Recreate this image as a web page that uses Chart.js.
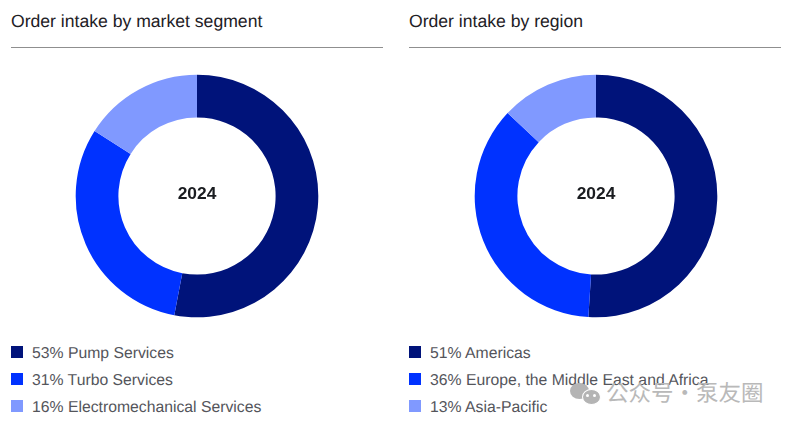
<!DOCTYPE html>
<html>
<head>
<meta charset="utf-8">
<script src="https://cdn.jsdelivr.net/npm/chart.js@4"></script>
<style>
    html, body { margin: 0; padding: 0; background: #fff; }
    body { width: 790px; height: 423px; position: relative; overflow: hidden; font-family: "Liberation Sans", Arial, sans-serif; text-rendering: geometricPrecision; }
    .title { position: absolute; top: 11px; font-size: 17.6px; line-height: 20px; color: #1e2025; white-space: nowrap; }
    .rule { position: absolute; top: 46.5px; height: 1.5px; background: #8f8f8f; }
    canvas { position: absolute; top: 74px; }
    .legend-row { position: absolute; font-size: 15.75px; line-height: 18px; color: #54555b; white-space: nowrap; }
    .legend-row i { position: absolute; left: 0; top: 1px; width: 12px; height: 12px; }
    .legend-row span { position: absolute; left: 21px; top: 0; }
    .mark { position: absolute; left: 606px; top: 377px; font-family: "Noto Sans CJK SC", sans-serif; font-size: 22.5px; line-height: 30px; color: #b9b9b9; white-space: nowrap; }
    .bubble { position: absolute; border-radius: 50%; background: #b4b4b4; }
    .eye { position: absolute; width: 3px; height: 3px; border-radius: 50%; background: #fff; }
</style>
</head>
<body>
<canvas id="chartSegment" width="244" height="244" style="left:75px"></canvas>
<canvas id="chartRegion" width="244" height="244" style="left:473.5px"></canvas>
<script>
const yearLabel = '2024';
const colors = ['#00137a', '#0032ff', '#8099ff'];

const segmentTitle = 'Order intake by market segment';
const segmentLabels = ['Pump Services', 'Turbo Services', 'Electromechanical Services'];
const segmentValues = [53, 31, 16];

const regionTitle = 'Order intake by region';
const regionLabels = ['Americas', 'Europe, the Middle East and Africa', 'Asia-Pacific'];
const regionValues = [51, 36, 13];

// year in the hole of the ring
const centerText = {
    id: 'centerText',
    afterDraw(chart) {
        const { ctx, chartArea } = chart;
        ctx.save();
        ctx.font = 'bold 17.4px "Liberation Sans", Arial, sans-serif';
        ctx.fillStyle = '#1a1c20';
        ctx.textAlign = 'center';
        ctx.textBaseline = 'middle';
        ctx.fillText(yearLabel, (chartArea.left + chartArea.right) / 2, (chartArea.top + chartArea.bottom) / 2 - 1.5);
        ctx.restore();
    }
};

function renderDonut(canvasId, labels, values) {
    new Chart(document.getElementById(canvasId), {
        type: 'doughnut',
        data: {
            labels: labels,
            datasets: [{ data: values, backgroundColor: colors, borderWidth: 0 }]
        },
        options: {
            responsive: false,
            animation: false,
            cutout: '64.8%',
            layout: { padding: 0.7 },
            plugins: { legend: { display: false }, tooltip: { enabled: false } }
        },
        plugins: [centerText]
    });
}

function addBlock(left, title, labels, values) {
    const head = document.createElement('div');
    head.className = 'title';
    head.style.left = left + 'px';
    head.textContent = title;
    document.body.appendChild(head);

    const rule = document.createElement('div');
    rule.className = 'rule';
    rule.style.left = left + 'px';
    rule.style.width = '372px';
    document.body.appendChild(rule);

    labels.forEach((label, i) => {
        const row = document.createElement('div');
        row.className = 'legend-row';
        row.style.left = left + 'px';
        row.style.top = (345 + i * 27) + 'px';
        row.innerHTML = `<i style="background:${colors[i]}"></i><span>${values[i]}% ${label}</span>`;
        document.body.appendChild(row);
    });
}

addBlock(11, segmentTitle, segmentLabels, segmentValues);
addBlock(409, regionTitle, regionLabels, regionValues);
renderDonut('chartSegment', segmentLabels, segmentValues);
renderDonut('chartRegion', regionLabels, regionValues);
</script>
<div class="bubble" style="left:570px;top:383px;width:19px;height:16px"></div>
<div class="bubble" style="left:582px;top:389px;width:17px;height:14px;border:1px solid #fff"></div>
<div class="eye" style="left:586px;top:394px"></div>
<div class="eye" style="left:593px;top:394px"></div>
<div class="mark">公众号・泵友圈</div>
</body>
</html>
